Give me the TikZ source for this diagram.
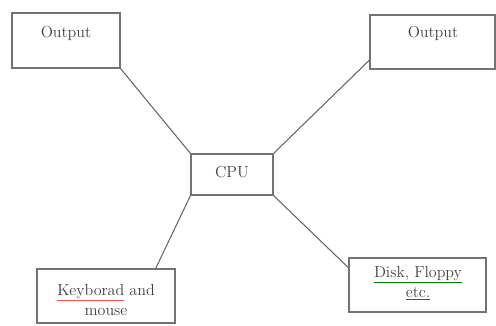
\documentclass[tikz,border=0pt]{standalone}
\usepackage{xcolor}
\begin{document}
\begin{tikzpicture}[x=0.75pt,y=-0.75pt,
  box/.style={draw=black!55, line width=0.8pt, minimum width=#1, inner sep=0pt},
  conn/.style={draw=black!60, line width=0.8pt},
  lbl/.style={text=black!75, font=\fontsize{12}{15}\selectfont, align=center, inner sep=0pt}]
\useasboundingbox (0,0) rectangle (496,325);
% boxes
\node[box=81pt, minimum height=41.25pt] (out1) at (66,40.5) {};
\node[box=93.75pt, minimum height=40.5pt] (out2) at (432.5,42) {};
\node[box=61.5pt, minimum height=30.75pt] (cpu) at (232,174.5) {};
\node[box=103.5pt, minimum height=40.5pt] (kb) at (106,296) {};
\node[box=102.75pt, minimum height=40.5pt] (disk) at (417.5,285) {};
% labels
\node[lbl] (t1) at (66,33) {Output};
\node[lbl] (t2) at (433,33) {Output};
\node[lbl] (t3) at (232,172) {CPU};
\node[lbl] (t4) at (106,300) {{\color{red!70}\underline{\textcolor{black!75}{Keyborad}}} and\\mouse};
\node[lbl] (t5) at (418,283) {{\color{green!50!black}\underline{\textcolor{black!75}{Disk, Floppy}}}\\{\color{green!50!black}\underline{\textcolor{black!75}{etc.}}}};
% connectors
\draw[conn] (out1.south east) -- (cpu.north west);
\draw[conn] (out2.196) -- (cpu.north east);
\draw[conn] (cpu.south west) -- (kb.29);
\draw[conn] (cpu.south east) -- (disk.166);
\end{tikzpicture}
\end{document}
